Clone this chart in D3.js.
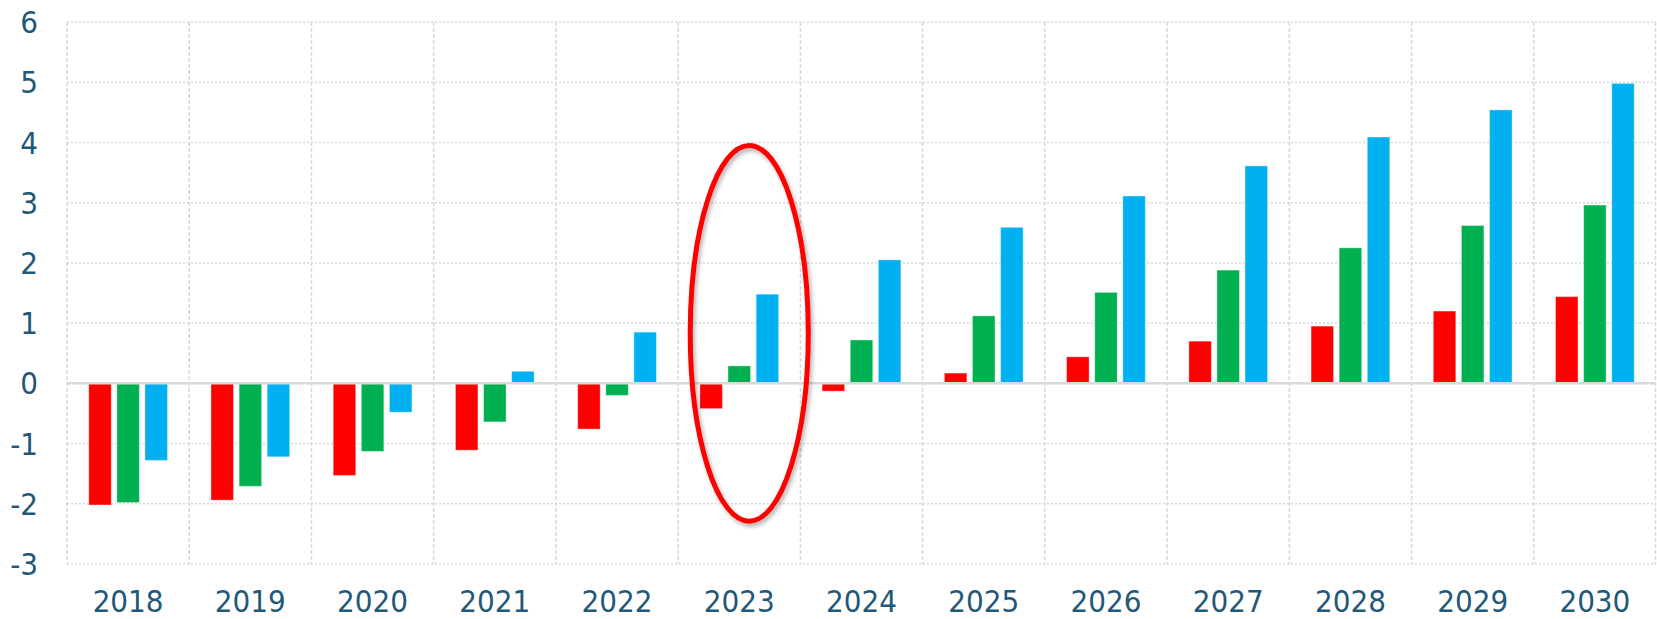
<!DOCTYPE html>
<html>
<head>
<meta charset="utf-8">
<script src="https://cdn.jsdelivr.net/npm/d3@7"></script>
<style>
  html, body { margin: 0; padding: 0; background: #fff; }
  svg text { font-family: "DejaVu Sans Condensed", "DejaVu Sans", sans-serif; font-stretch: condensed; fill: #1f5878; }
</style>
</head>
<body>
<div id="chart"></div>
<script>
const years = ['2018', '2019', '2020', '2021', '2022', '2023', '2024', '2025', '2026', '2027', '2028', '2029', '2030'];
const seriesNames = ['red', 'green', 'blue'];
const redValues = [-2.02, -1.94, -1.53, -1.11, -0.76, -0.42, -0.13, 0.17, 0.44, 0.70, 0.95, 1.20, 1.44];
const greenValues = [-1.98, -1.71, -1.13, -0.64, -0.20, 0.29, 0.72, 1.12, 1.51, 1.88, 2.25, 2.62, 2.96];
const blueValues = [-1.28, -1.22, -0.48, 0.20, 0.85, 1.48, 2.05, 2.59, 3.11, 3.61, 4.09, 4.54, 4.98];
const yTicks = [-3, -2, -1, 0, 1, 2, 3, 4, 5, 6];
// highlighted year, ellipse spans these values
const markYear = '2023';
const markTop = 3.95;
const markBottom = -2.29;

const colors = { red: '#ff0000', green: '#00b050', blue: '#00b0f0' };
const valuesBySeries = { red: redValues, green: greenValues, blue: blueValues };

const width = 1657, height = 619;
const margin = { top: 22, right: 1, bottom: 55, left: 67 };

const svg = d3.select('#chart').append('svg')
  .attr('width', width)
  .attr('height', height);

const defs = svg.append('defs');
const shadow = defs.append('filter').attr('id', 'shadow')
  .attr('x', '-20%').attr('y', '-10%').attr('width', '140%').attr('height', '120%');
shadow.append('feDropShadow')
  .attr('dx', 2).attr('dy', 3).attr('stdDeviation', 2)
  .attr('flood-color', '#000').attr('flood-opacity', 0.3);

const x0 = d3.scaleBand()
  .domain(years)
  .range([margin.left, width - margin.right])
  .paddingInner(0.356)
  .paddingOuter(0.178);

const x1 = d3.scaleBand()
  .domain(seriesNames)
  .range([0, x0.bandwidth()])
  .paddingInner(0.2);

const y = d3.scaleLinear()
  .domain([-3, 6])
  .range([height - margin.bottom, margin.top]);

const step = x0.step();
const left = margin.left, right = width - margin.right;

// horizontal dotted grid
svg.append('g').selectAll('line')
  .data(yTicks)
  .enter().append('line')
  .attr('x1', left).attr('x2', right)
  .attr('y1', d => y(d)).attr('y2', d => y(d))
  .attr('stroke', '#d9d9d9')
  .attr('stroke-width', 1.5)
  .attr('stroke-dasharray', '2,2');

// vertical dashed grid at category edges
const edges = years.map((d, i) => left + i * step).concat([right - 0.5]);
svg.append('g').selectAll('line')
  .data(edges)
  .enter().append('line')
  .attr('x1', d => d).attr('x2', d => d)
  .attr('y1', y(6)).attr('y2', y(-3))
  .attr('stroke', '#d9d9d9')
  .attr('stroke-width', 1.5)
  .attr('stroke-dasharray', '4,2');

// bars
const groups = svg.append('g').selectAll('g')
  .data(years)
  .enter().append('g')
  .attr('transform', d => `translate(${x0(d)},0)`);

groups.selectAll('rect')
  .data((d, i) => seriesNames.map(s => ({ key: s, value: valuesBySeries[s][i] })))
  .enter().append('rect')
  .attr('x', d => x1(d.key))
  .attr('width', x1.bandwidth())
  .attr('y', d => y(Math.max(0, d.value)))
  .attr('height', d => Math.abs(y(d.value) - y(0)))
  .attr('fill', d => colors[d.key])
  .attr('stroke', 'rgba(255,255,255,0.35)')
  .attr('stroke-width', 1);

// zero line
svg.append('line')
  .attr('x1', left).attr('x2', right)
  .attr('y1', y(0)).attr('y2', y(0))
  .attr('stroke', '#d9d9d9')
  .attr('stroke-width', 2.5);

// y labels
svg.append('g').selectAll('text')
  .data(yTicks)
  .enter().append('text')
  .attr('x', 38)
  .attr('y', d => y(d))
  .attr('dy', '0.36em')
  .attr('text-anchor', 'end')
  .attr('font-size', 31)
  .text(d => d);

// x labels
svg.append('g').selectAll('text')
  .data(years)
  .enter().append('text')
  .attr('x', d => x0(d) + x0.bandwidth() / 2)
  .attr('y', y(-3) + 48)
  .attr('text-anchor', 'middle')
  .attr('font-size', 31)
  .text(d => d);

// highlight ellipse
const cy = (y(markTop) + y(markBottom)) / 2;
const ry = (y(markBottom) - y(markTop)) / 2;
svg.append('ellipse')
  .attr('cx', x0(markYear) + x0.bandwidth() / 2 + 10)
  .attr('cy', cy)
  .attr('rx', step * 0.483)
  .attr('ry', ry)
  .attr('fill', 'none')
  .attr('stroke', '#ff0000')
  .attr('stroke-width', 5)
  .attr('filter', 'url(#shadow)');
</script>
</body>
</html>
